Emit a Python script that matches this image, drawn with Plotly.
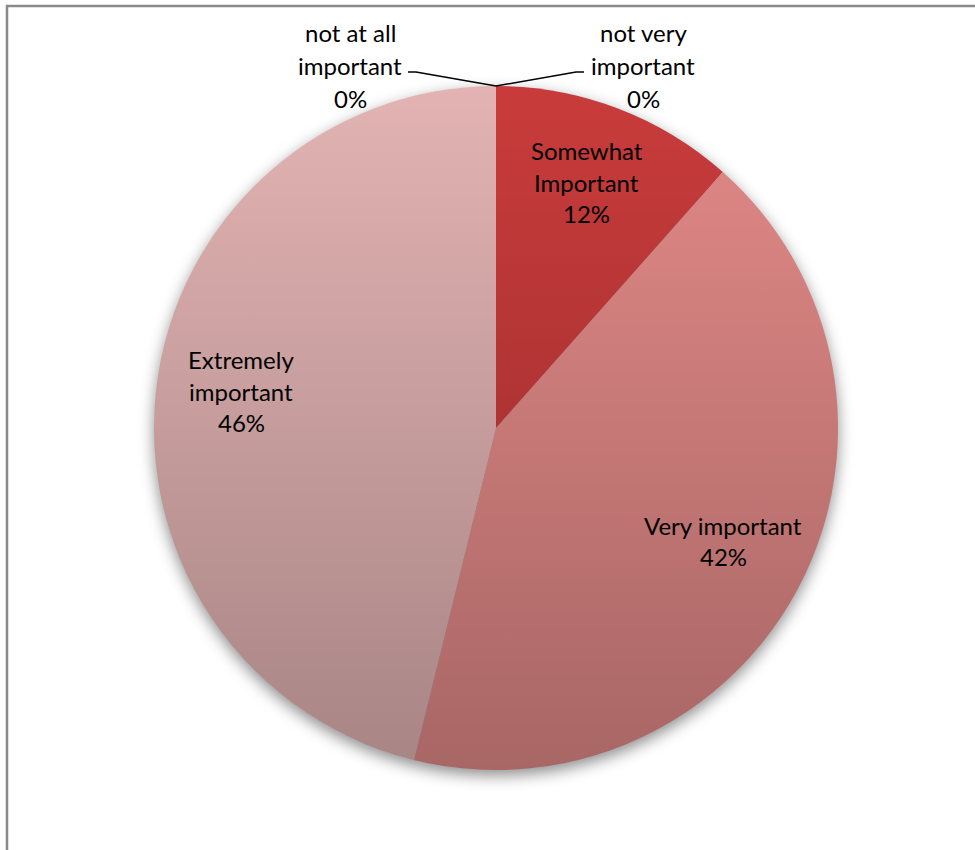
import math
import base64
import plotly.graph_objects as go

# ---- data ----
categories = ["not very important", "Somewhat Important", "Very important",
              "Extremely important", "not at all important"]
label_lines = [["not very", "important"], ["Somewhat", "Important"], ["Very important"],
               ["Extremely", "important"], ["not at all", "important"]]
values = [0, 6, 22, 24, 0]
colors = ["#cd3c3c", "#c93b3b", "#e38a88", "#e3b3b3", "#e3b3b3"]

W, H = 975, 850
CX, CY, R = 496, 428, 342  # pie centre / radius in px

x0 = (CX - R) / W
x1 = (CX + R) / W
y0 = (H - CY - R) / H
y1 = (H - CY + R) / H

fig = go.Figure()
fig.add_trace(go.Pie(
    labels=categories, values=values, sort=False, direction="clockwise",
    rotation=0, marker=dict(colors=colors, line=dict(width=0)),
    textinfo="none", textposition="none", hoverinfo="label+percent",
    showlegend=False, domain=dict(x=[x0, x1], y=[y0, y1]),
))

FONT = dict(family="Lato, Calibri, Arial", size=24, color="#000000")
LINE_H = 31.5

def px_to_paper(px, py):
    return px / W, (H - py) / H

total = sum(values)
annotations = []
cum = 0
for cat, lines, v in zip(categories, label_lines, values):
    frac = v / total
    if v > 0:
        mid = (cum + frac / 2) * 2 * math.pi
        lx = CX + 0.75 * R * math.sin(mid)
        ly = CY - 6 - 0.75 * R * math.cos(mid)
        all_lines = lines + [f"{round(frac * 100)}%"]
        n = len(all_lines)
        for i, t in enumerate(all_lines):
            px, py = px_to_paper(lx, ly + (i - (n - 1) / 2) * LINE_H)
            annotations.append(dict(x=px, y=py, xref="paper", yref="paper", text=t,
                                    showarrow=False, font=FONT, xanchor="center", yanchor="middle"))
    cum += frac

# outside labels for the zero-value slices
zero_pos = {"not very important": (643, 1), "not at all important": (350, -1)}
shapes = []
for cat, lines, v in zip(categories, label_lines, values):
    if v == 0 and cat in zero_pos:
        lx, side = zero_pos[cat]
        all_lines = lines + ["0%"]
        for i, t in enumerate(all_lines):
            px, py = px_to_paper(lx, 33 + i * 33)
            annotations.append(dict(x=px, y=py, xref="paper", yref="paper", text=t,
                                    showarrow=False, font=FONT, xanchor="center", yanchor="middle"))
        # leader line from slice tip (top of pie) to label
        tx, ty = CX, CY - R
        ex, ey = CX + side * 80, 72
        fx = ex + side * 8
        p0 = px_to_paper(tx, ty); p1 = px_to_paper(ex, ey); p2 = px_to_paper(fx, ey)
        shapes.append(dict(type="path", xref="paper", yref="paper",
                           path=f"M {p0[0]} {p0[1]} L {p1[0]} {p1[1]} L {p2[0]} {p2[1]}",
                           line=dict(color="#000000", width=1.5)))

# chart frame (left and top edges visible)
shapes.append(dict(type="rect", xref="paper", yref="paper",
                   x0=7 / W, x1=1.05, y0=-0.05, y1=1 - 6 / H,
                   line=dict(color="#8a8a8a", width=2.5), fillcolor="rgba(0,0,0,0)"))

# vertical shading overlay (gradient) and soft shadow
shade_svg = ('<svg xmlns="http://www.w3.org/2000/svg" width="200" height="200" viewBox="0 0 200 200">'
             '<defs><linearGradient id="g" x1="0" y1="0" x2="0" y2="1">'
             '<stop offset="0" stop-color="#000" stop-opacity="0"/>'
             '<stop offset="1" stop-color="#000" stop-opacity="0.26"/></linearGradient></defs>'
             '<circle cx="100" cy="100" r="100" fill="url(#g)"/></svg>')
shadow_svg = ('<svg xmlns="http://www.w3.org/2000/svg" width="240" height="240" viewBox="0 0 240 240">'
              '<defs><filter id="b" x="-20%" y="-20%" width="140%" height="140%">'
              '<feGaussianBlur stdDeviation="2.2"/></filter></defs>'
              '<circle cx="120" cy="121.6" r="100" fill="#000" fill-opacity="0.45" filter="url(#b)"/></svg>')

def uri(s):
    return "data:image/svg+xml;base64," + base64.b64encode(s.encode()).decode()

images = [
    dict(source=uri(shadow_svg), xref="paper", yref="paper",
         x=(CX - R * 1.2) / W, y=(H - CY + R * 1.2) / H,
         sizex=2.4 * R / W, sizey=2.4 * R / H, xanchor="left", yanchor="top",
         sizing="stretch", layer="below"),
    dict(source=uri(shade_svg), xref="paper", yref="paper",
         x=x0, y=y1, sizex=x1 - x0, sizey=y1 - y0, xanchor="left", yanchor="top",
         sizing="stretch", layer="above"),
]

fig.update_layout(
    width=W, height=H, margin=dict(l=0, r=0, t=0, b=0),
    paper_bgcolor="#ffffff", plot_bgcolor="#ffffff",
    annotations=annotations, shapes=shapes, images=images,
)

fig.write_html("out.html", config={"displayModeBar": False},
               post_script="document.body.style.margin='0';document.body.style.overflow='hidden';")
